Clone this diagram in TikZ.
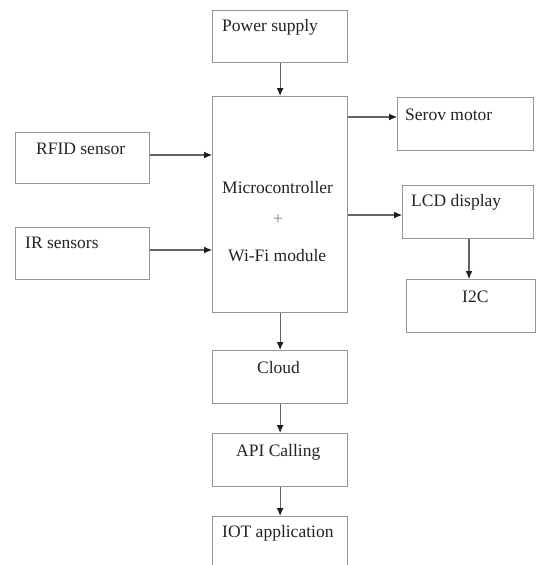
\documentclass[tikz,border=0pt]{standalone}
\usepackage{fontspec}
\setmainfont{Liberation Serif}
\usetikzlibrary{arrows.meta}
\definecolor{boxgray}{RGB}{150,150,150}
\definecolor{linegray}{RGB}{100,100,100}
\definecolor{tipcol}{RGB}{30,30,30}
\definecolor{txt}{RGB}{35,35,35}
\begin{document}
\begin{tikzpicture}[x=1pt,y=-1pt,
  blk/.style={draw=boxgray, line width=1.2pt, anchor=north west, inner sep=0pt},
  lbl/.style={anchor=west, inner sep=0pt, text=txt, font=\fontsize{17.5}{20}\selectfont},
  arr/.style={draw=linegray, line width=1.1pt, -{Latex[length=8pt,width=7pt,color=tipcol]}}]
\useasboundingbox[fill=white] (0,0) rectangle (536,565);
\node[blk, minimum width=135pt, minimum height=52pt] (power) at (212,10) {};
\node[blk, minimum width=135pt, minimum height=216pt] (micro) at (212,96) {};
\node[blk, minimum width=136pt, minimum height=53pt] (serov) at (397,97) {};
\node[blk, minimum width=131pt, minimum height=53pt] (lcd) at (402,185) {};
\node[blk, minimum width=129pt, minimum height=53pt] (i2c) at (406,279) {};
\node[blk, minimum width=134pt, minimum height=51pt] (rfid) at (15,132) {};
\node[blk, minimum width=134pt, minimum height=52pt] (ir) at (15,227) {};
\node[blk, minimum width=135pt, minimum height=53pt] (cloud) at (212,350) {};
\node[blk, minimum width=135pt, minimum height=53pt] (api) at (212,433) {};
\node[blk, minimum width=135pt, minimum height=60pt] (iot) at (212,516) {};

\node[lbl] (tpower) at (222,27) {Power supply};
\node[lbl] (tmicro1) at (222,188) {Microcontroller};
\node[lbl, text=gray] (tplus) at (273,220) {+};
\node[lbl] (tmicro2) at (228,256) {Wi-Fi module};
\node[lbl] (tserov) at (405,115) {Serov motor};
\node[lbl] (tlcd) at (411,202) {LCD display};
\node[lbl] (ti2c) at (462,297) {I2C};
\node[lbl] (trfid) at (36,149) {RFID sensor};
\node[lbl] (tir) at (25,243) {IR sensors};
\node[lbl] (tcloud) at (257,368) {Cloud};
\node[lbl] (tapi) at (236,452) {API Calling};
\node[lbl] (tiot) at (222,533) {IOT application};

\draw[arr] (power.south) -- (micro.north);
\draw[arr] (rfid.east |- {0,155}) -- (micro.west |- {0,155});
\draw[arr] (ir.east |- {0,250}) -- (micro.west |- {0,250});
\draw[arr] (micro.east |- {0,117}) -- (serov.west |- {0,117});
\draw[arr] (micro.east |- {0,215}) -- (lcd.west |- {0,215});
\draw[arr] (lcd.south -| {469,0}) -- (i2c.north -| {469,0});
\draw[arr] (micro.south) -- (cloud.north);
\draw[arr] (cloud.south) -- (api.north);
\draw[arr] (api.south) -- (iot.north);
\end{tikzpicture}
\end{document}
